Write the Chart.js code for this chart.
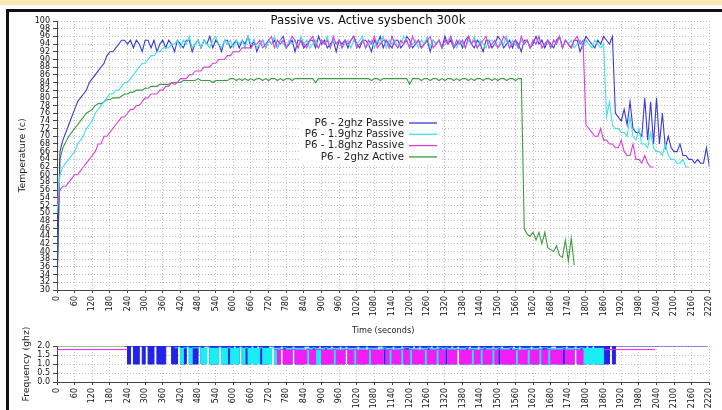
<!DOCTYPE html>
<html><head><meta charset="utf-8">
<script src="https://cdn.jsdelivr.net/npm/chart.js@4.4.1/dist/chart.umd.min.js"></script>
<style>
html,body{margin:0;padding:0;background:#fff;width:722px;height:410px;overflow:hidden;}
#band{position:absolute;left:0;top:0;width:722px;height:5px;background:#fbe8b4;}
#frame{position:absolute;left:6px;top:9px;width:716px;height:401px;border-top:3px solid #111;border-left:3px solid #111;box-sizing:border-box;}
canvas{position:absolute;left:0;}
#c1{top:0;} #c2{top:320px;}
</style></head><body>
<div id="band"></div><div id="frame"></div>
<canvas id="c1" width="722" height="340"></canvas>
<canvas id="c2" width="722" height="90"></canvas>
<script>
// ---------- data (sample step 10 s) ----------
const STEP = 10;
const chartTitle = 'Passive vs. Active sysbench 300k';
const seriesNames = ['P6 - 2ghz Passive', 'P6 - 1.9ghz Passive', 'P6 - 1.8ghz Passive', 'P6 - 2ghz Active'];
const xTitle = 'Time (seconds)';
const tempTitle = 'Temperature (c)';
const freqTitle = 'Frequency (ghz)';

// temperatures, starting at t = 0 s
const tempBlue = [
 30,66,69,71,73,75,77,79,80,81,82,84,85,86,87,88,89,91,92,92,93,94,95,
 95,94,95,93,95,94,92,95,95,93,
 95,92,94,95,93,95,94,92,95,94,
 93,95,95,92,94,95,93,95,94,96,
 93,95,94,92,95,95,93,94,95,93,
 95,94,96,93,95,92,94,95,93,95,
 94,95,93,95,96,93,94,95,92,95,
 95,93,94,95,95,93,96,94,95,93,
 94,95,92,95,94,95,93,95,96,94,
 93,95,95,94,92,95,94,96,93,95,
 94,93,95,95,93,94,96,95,93,94,
 95,93,94,95,92,95,94,95,93,96,
 94,95,93,94,95,93,95,96,94,93,
 95,94,92,95,95,93,94,96,95,93,
 94,95,93,95,94,92,95,95,93,94,
 96,94,95,93,95,94,93,95,96,93,
 95,94,93,95,95,92,94,96,95,94,
 93,95,94,96,95,94,96,
 76,75,74,77,73,79,72,71,71,70,80,69,79,68,80,68,76,67,70,67,66,66,68,65,65,64,64,63,64,63,63,67,62
];
const tempCyan = [
 50,60,62,63,64,65,66,68,69,70,72,73,74,76,77,78,79,80,81,81,82,82,83,84,84,85,86,87,88,89,89,90,91,91,92,92,93,93,93,94,
 94,95,93,95,94,96,93,94,95,93,
 95,94,93,95,96,94,93,95,94,95,
 93,95,94,95,93,96,94,95,93,94,
 95,93,95,94,96,93,95,94,93,95,
 94,95,93,96,94,95,93,94,95,93,
 95,94,96,93,95,94,95,93,94,95,
 93,95,94,95,96,93,94,95,93,95,
 94,96,93,95,94,95,93,94,96,95,
 93,94,95,93,95,94,96,93,95,94,
 95,93,94,95,96,94,93,95,94,93,
 95,94,96,93,95,94,93,95,95,94,
 93,95,94,96,93,95,94,93,95,94,
 95,93,95,94,96,93,94,95,93,95,
 94,96,93,95,94,95,93,94,95,93,
 95,94,93,95,94,93,94,
 75,79,73,72,72,71,71,70,75,70,69,72,68,68,67,71,67,66,66,65,68,65,64,64,63,63,64,62,62
];
const tempMagenta = [
 52,56,57,57,58,59,60,60,61,62,63,64,65,66,68,68,70,70,71,72,73,74,75,75,76,77,77,78,78,79,
 80,80,81,81,81,82,82,83,83,84,84,84,85,85,85,86,86,87,87,87,88,88,88,89,89,90,90,90,91,91,
 92,92,92,93,93,93,93,94,94,
 95,93,94,95,96,93,95,94,95,93,
 94,96,95,93,95,94,93,95,96,94,
 93,95,94,95,93,96,94,95,93,95,
 94,95,96,93,94,95,93,95,94,96,
 93,94,95,95,93,96,94,93,95,94,
 95,93,96,94,95,93,94,95,96,93,
 94,95,93,95,94,96,93,95,94,95,
 93,96,94,95,93,94,95,96,93,94,
 95,93,94,96,95,93,94,95,93,96,
 94,95,93,95,94,96,93,94,95,93,
 95,94,96,93,95,94,93,95,96,94,
 95,
 73,72,71,70,70,72,69,69,68,68,67,67,69,66,65,65,68,64,64,63,65,63,62,62
];
const tempGreen = [
 30,64,67,68.5,70,71,72,73,74,75,76,76.5,77,78,78.5,78.5,79,79.5,79.5,80,80,80,80.5,81,81,81.5,81.5,82,82,82,82.5,82.5,83,83,83,83.5,
 83.5,83.5,83.5,84,83.5,84,84,84.5,84.5,84.5,
 84.5,84.5,85,84.5,84.5,84.5,84.5,84,84.5,84.5,
 84.5,84.5,84.5,85,85,84.5,85,84.5,85,84.5,
 85,84.5,85,85,84.5,85,84.5,85,85,84.5,
 85,84.5,85,85,84.5,85,85,85,85,85,
 85,85,84,85,85,85,85,85,85,85,
 85,85,85,85,85,85,85,85,85,85,
 85,84.5,85,85,84.5,85,85,85,85,85,
 85,85,85,85,83.5,85,85,85,84.5,85,
 85,84.5,85,85,84.5,85,84.5,85,85,84.5,
 85,84.5,85,85,84.5,85,84.5,85,85,84.5,
 85,85,84.5,85,84.5,85,85,84.5,85,85,
 84.5,85,85,
 46,44.5,44,45,43,45,42,45,41,40.5,40,41.5,39,38.5,43,37.5,43.5,36.5
];

// frequencies (ghz)
const freqGreenT = [0, 1760];
const freqGreenV = [2.0, 2.0];
const freqBlueStart = 230;
const freqBlue = [
 2,1,2,1,1,2,1,2,1,1,
 2,1,1,1,2,2,1,1,2,1,
 1,2,1,1,1,2,1,2,2,1,
 1,1,2,1,1,1,1,2,1,2,
 1,1,1,2,1,2,1,1,1,2,
 2,1,1,2,1,1,1,2,1,1,
 1,2,2,1,1,1,2,1,1,1,
 2,1,1,2,1,2,1,1,1,2,
 1,1,2,1,1,1,2,2,1,1,
 1,2,1,1,2,1,1,1,2,1,
 2,1,1,1,2,1,2,1,1,1,
 1,2,1,2,1,1,1,2,1,1,
 2,1,1,1,1,2,1,1,2,1,
 1,1,2,1,2,1,1,1,2,1,
 1,2,1,1,1,2,2,1,1,1,
 2,1,1,2,1,1,1,2,1,2,
 1,1,1,1,1,2,1
];
const freqBlueTailT = [1900, 2215];
const freqBlueTailV = [2.0, 2.0];
const freqCyanStart = 400;
const freqCyan = [
 1.9,1.9,1,1.9,1.9,1,1.9,1.9,1.9,1,
 1,1.9,1,1,1,1.9,1,1,1.9,1,
 1,1,1.9,1,1.9,1,1,1,1,1.9,
 1,1,1,1.9,1,1,1.9,1.9,1,1,
 1.9,1,1,1,1.9,1,1,1.9,1,1,
 1,1.9,1,1,1,1,1.9,1,1.9,1,
 1,1,1.9,1,1,1.9,1,1,1,1.9,
 1,1.9,1,1,1.9,1,1,1,1.9,1.9,
 1,1,1,1.9,1,1,1.9,1,1,1,
 1.9,1,1.9,1,1,1,1.9,1,1,1.9,
 1,1,1,1.9,1,1.9,1,1,1,1,
 1.9,1,1,1,1.9,1,1,1.9,1,1,
 1,1.9,1,1,1,1.9,1.9,1,1,1,
 1,1,1.9,1,1,1,1.9,1,1.9,1,
 1,1,1,1,1,1,1.9
];
const freqMagentaHeadT = [0, 240];
const freqMagentaHeadV = [1.8, 1.8];
const freqMagentaStart = 740;
const freqMagenta = [
 1.8,1,1.8,1,1,1,1.8,1,1,1,
 1,1.8,1,1,1.8,1.8,1,1,1,1,
 1.8,1,1,1,1.8,1,1,1.8,1,1,
 1,1,1.8,1,1,1,1,1.8,1,1.8,
 1,1,1,1.8,1,1,1.8,1,1,1,
 1,1.8,1,1,1,1.8,1,1,1.8,1,
 1,1,1.8,1,1,1,1,1.8,1,1,
 1.8,1,1,1,1.8,1,1.8,1,1,1,
 1,1,1.8,1,1,1,1.8,1,1,1,
 1.8,1,1,1.8,1,1,1,1,1.8,1,
 1,1,1.8,1,1,1.8
];
const freqMagentaTailT = [1860, 2035];
const freqMagentaTailV = [1.8, 1.8];

// ---------- helpers ----------
function seq(start, vals){ return vals.map((v,i)=>({x:start+i*STEP, y:v})); }
function pts(ts, vs){ return ts.map((t,i)=>({x:t, y:vs[i]})); }
function gapAt(t){ return [{x:t, y:null}]; }

const COL = {blue:'#3b3bd4', cyan:'#3fe2ea', magenta:'#e03ee0', green:'#3e9a3e'};
const FCOL = {blue:'#2222e8', cyan:'#19eef2', magenta:'#f41cf4', green:'#3e9a3e'};
const FONT = 'DejaVu Sans';

function xAxis(h, withTitle){
  return {
    type:'linear', min:0, max:2220,
    afterFit:s=>{ s.height = h; },
    ticks:{stepSize:60, autoSkip:false, minRotation:90, maxRotation:90, padding:3,
           font:{family:FONT, size:8}, color:'#111', callback:v=>String(v)},
    grid:{color:'#c2c2c2', tickColor:'#444', tickLength:3},
    border:{color:'#444', dash:[1,2]},
    title:{display:withTitle, text:xTitle, font:{family:FONT, size:8.2}, color:'#222', padding:{top:0,bottom:4}}
  };
}

const overlay = {
  id:'overlay',
  afterDraw(chart){
    const ctx = chart.ctx;
    ctx.save();
    ctx.font = '11.7px "' + FONT + '"';
    const tw = ctx.measureText(chartTitle).width;
    const cx = 368;
    ctx.fillStyle = '#fff';
    ctx.fillRect(cx - tw/2 - 3, 13, tw + 6, 16);
    ctx.fillStyle = '#111'; ctx.textAlign = 'center'; ctx.textBaseline = 'middle';
    ctx.fillText(chartTitle, cx, 21);
    // legend
    ctx.fillStyle = '#fff';
    ctx.fillRect(300, 114, 142, 50);
    ctx.font = '10.3px "' + FONT + '"';
    ctx.textAlign = 'right';
    const cols = [COL.blue, COL.cyan, COL.magenta, COL.green];
    seriesNames.forEach((n,i)=>{
      const y = 123 + i*11.3;
      ctx.fillStyle = '#222';
      ctx.fillText(n, 404, y);
      ctx.strokeStyle = cols[i]; ctx.lineWidth = 1.3;
      ctx.beginPath(); ctx.moveTo(409, y); ctx.lineTo(437, y); ctx.stroke();
    });
    ctx.restore();
  }
};

const common = {
  responsive:false, animation:false, devicePixelRatio:1, events:[],
  elements:{point:{radius:0}},
  plugins:{legend:{display:false}, title:{display:false}, tooltip:{enabled:false}}
};

new Chart(document.getElementById('c1'), {
  type:'line',
  data:{datasets:[
    {label:seriesNames[0], data:seq(0,tempBlue), borderColor:COL.blue, borderWidth:1.1, order:2},
    {label:seriesNames[1], data:seq(0,tempCyan), borderColor:COL.cyan, borderWidth:1.1, order:1},
    {label:seriesNames[2], data:seq(0,tempMagenta), borderColor:COL.magenta, borderWidth:1.1, order:0},
    {label:seriesNames[3], data:seq(0,tempGreen), borderColor:COL.green, borderWidth:1.1, order:3}
  ]},
  options:Object.assign({}, common, {
    layout:{padding:{left:10, right:9, top:21, bottom:0}},
    scales:{
      x:xAxis(50, true),
      y:{min:30, max:100, afterFit:s=>{ s.width = 47; },
         ticks:{stepSize:2, autoSkip:false, padding:3, font:{family:FONT, size:8}, color:'#111'},
         grid:{color:'#c2c2c2', tickColor:'#444', tickLength:4},
         border:{color:'#444', dash:[1,2]},
         title:{display:true, text:tempTitle, font:{family:FONT, size:9.3}, color:'#222', padding:{top:7,bottom:0}}}
    }
  }),
  plugins:[overlay]
});

new Chart(document.getElementById('c2'), {
  type:'line',
  data:{datasets:[
    {data:pts(freqGreenT, freqGreenV), borderColor:FCOL.green, borderWidth:1.2, order:3},
    {data:seq(freqBlueStart, freqBlue).concat(pts(freqBlueTailT, freqBlueTailV)), borderColor:FCOL.blue, backgroundColor:FCOL.blue,
     borderWidth:1, stepped:true, fill:{value:2}, order:2},
    {data:seq(freqCyanStart, freqCyan), borderColor:FCOL.cyan, backgroundColor:FCOL.cyan,
     borderWidth:1, stepped:true, fill:{value:1.9}, order:1},
    {data:pts(freqMagentaHeadT, freqMagentaHeadV).concat(gapAt(250), seq(freqMagentaStart, freqMagenta), gapAt(1800), pts(freqMagentaTailT, freqMagentaTailV)),
     borderColor:FCOL.magenta, backgroundColor:FCOL.magenta, borderWidth:1, stepped:true, fill:{value:1.8}, order:0}
  ]},
  options:Object.assign({}, common, {
    spanGaps:false,
    layout:{padding:{left:10, right:9, top:26, bottom:0}},
    scales:{
      x:xAxis(28, false),
      y:{min:0, max:2, afterFit:s=>{ s.width = 47; },
         ticks:{stepSize:0.5, autoSkip:false, padding:3, font:{family:FONT, size:8}, color:'#111',
                callback:v=>Number(v).toFixed(1)},
         grid:{color:'#c2c2c2', tickColor:'#444', tickLength:4},
         border:{color:'#444', dash:[1,2]},
         title:{display:true, text:freqTitle, font:{family:FONT, size:9.3}, color:'#222', padding:{top:11,bottom:0}}}
    }
  })
});
</script></body></html>
